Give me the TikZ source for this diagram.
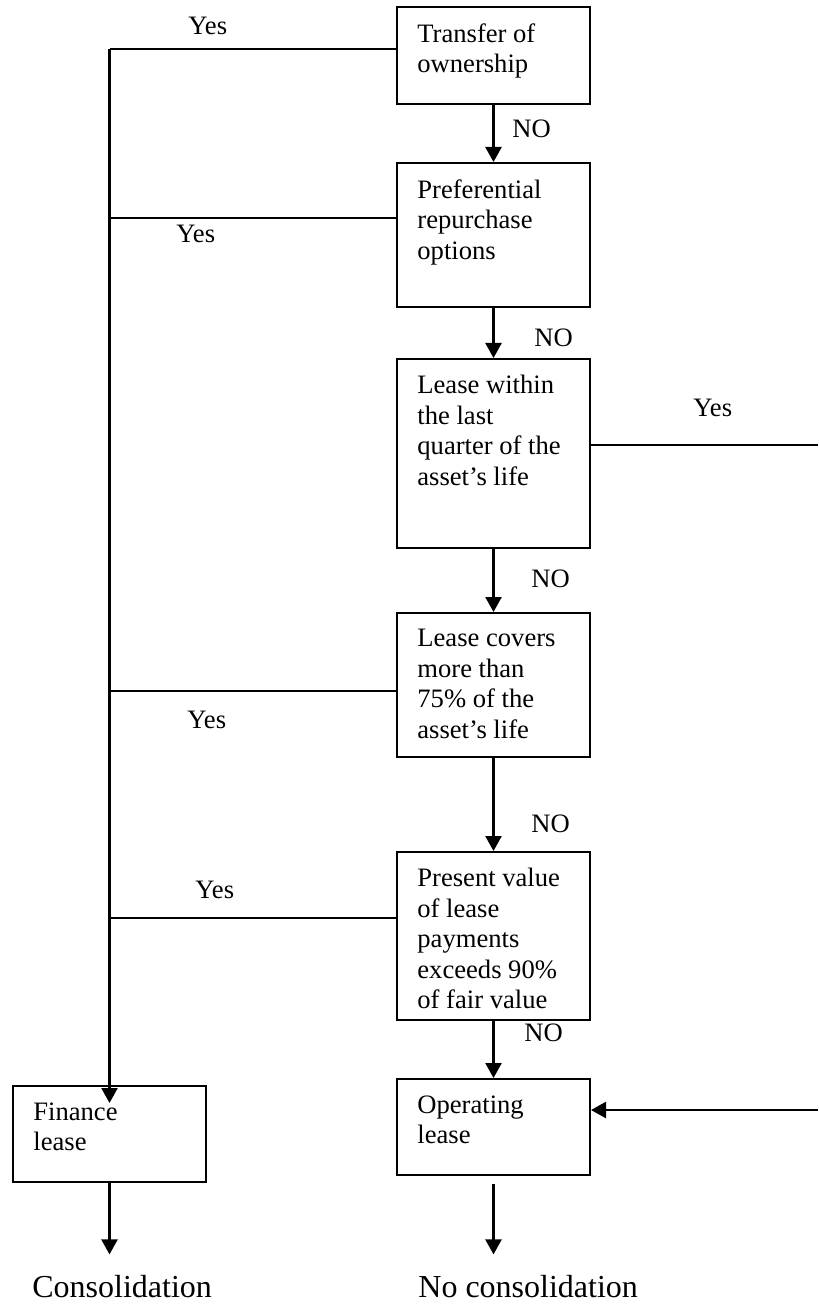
\documentclass[tikz,border=0pt]{standalone}
\usepackage{fontspec}
\setmainfont{Liberation Serif}
\usetikzlibrary{arrows.meta}

\newcommand{\leasefont}{\fontsize{13.3pt}{15.25pt}\selectfont}
\newcommand{\outcomefont}{\fontsize{16pt}{19pt}\selectfont}

\tikzset{
  box/.style={draw, line width=1pt, inner sep=0pt, minimum width=96.5pt},
  boxtext/.style={anchor=north west, align=left, inner xsep=10.5pt, inner ysep=8.5pt, font=\leasefont},
  lbl/.style={anchor=base west, inner sep=0pt, font=\leasefont},
  link/.style={line width=1pt},
  flow/.style={line width=1.2pt, -{Triangle[length=7.5pt,width=8pt]}}
}

\begin{document}
\begin{tikzpicture}[x=0.5pt, y=-0.5pt]
  \useasboundingbox (0,0) rectangle (818,1304);
  % the tests, top to bottom
  \node[box, minimum height=48.5pt] (transfer) at (493.5,55.5) {};
  \node[box, minimum height=72pt] (repurchase) at (493.5,235) {};
  \node[box, minimum height=94.5pt] (quarter) at (493.5,453.5) {};
  \node[box, minimum height=72pt] (covers) at (493.5,685) {};
  \node[box, minimum height=84pt] (present) at (493.5,936) {};
  % the two outcomes
  \node[box, minimum height=48pt] (operating) at (493.5,1127) {};
  \node[box, minimum height=48pt] (finance) at (109.5,1134) {};
  \node[boxtext] (transfertext) at (transfer.north west) {Transfer of\\ownership};
  \node[boxtext] (repurchasetext) at (repurchase.north west) {Preferential\\repurchase\\options};
  \node[boxtext] (quartertext) at (quarter.north west) {Lease within\\the last\\quarter of the\\asset’s life};
  \node[boxtext] (coverstext) at (covers.north west) {Lease covers\\more than\\75\% of the\\asset’s life};
  \node[boxtext] (presenttext) at (present.north west) {Present value\\of lease\\payments\\exceeds 90\%\\of fair value};
  \node[boxtext] (operatingtext) at (operating.north west) {Operating\\lease};
  \node[boxtext] (financetext) at (finance.north west) {Finance\\lease};
  \node[anchor=base west, inner sep=0pt, font=\outcomefont] (cons) at (32,1297) {Consolidation};
  \node[anchor=base west, inner sep=0pt, font=\outcomefont] (nocons) at (418,1297) {No consolidation};
  % NO path down the right column
  \draw[flow] (transfer.south) -- (repurchase.north);
  \draw[flow] (repurchase.south) -- (quarter.north);
  \draw[flow] (quarter.south) -- (covers.north);
  \draw[flow] (covers.south) -- (present.north);
  \draw[flow] (present.south) -- (operating.north);
  \node[lbl] (no1) at (512,138) {NO};
  \node[lbl] (no2) at (534,347) {NO};
  \node[lbl] (no3) at (531,587) {NO};
  \node[lbl] (no4) at (531,832) {NO};
  \node[lbl] (no5) at (524,1041) {NO};
  % Yes branches to the left
  \coordinate (j1) at (109.5,49);
  \coordinate (j2) at (109.5,218);
  \coordinate (j3) at (109.5,691);
  \coordinate (j4) at (109.5,918);
  \draw[link] (j1) -- (j1 -| transfer.west);
  \draw[link] (j2) -- (j2 -| repurchase.west);
  \draw[link] (j3) -- (j3 -| covers.west);
  \draw[link] (j4) -- (j4 -| present.west);
  \draw[flow, shorten >=-9pt] (j1) -- (finance.north);
  \node[lbl] (yes1) at (188,35) {Yes};
  \node[lbl] (yes2) at (176,243) {Yes};
  \node[lbl] (yes4) at (187,728) {Yes};
  \node[lbl] (yes5) at (195,898) {Yes};
  % Yes branch to the right
  \coordinate (r1) at (818,445);
  \coordinate (r2) at (818,1110);
  \draw[link] (quarter.east |- r1) -- (r1);
  \draw[flow] (r2) -- (r2 -| operating.east);
  \node[lbl] (yes3) at (693,416) {Yes};
  % results
  \draw[flow, shorten >=10pt] (finance.south) -- (finance.south |- cons.north);
  \draw[flow, shorten <=4pt, shorten >=10pt] (operating.south) -- (operating.south |- nocons.north);
\end{tikzpicture}
\end{document}
